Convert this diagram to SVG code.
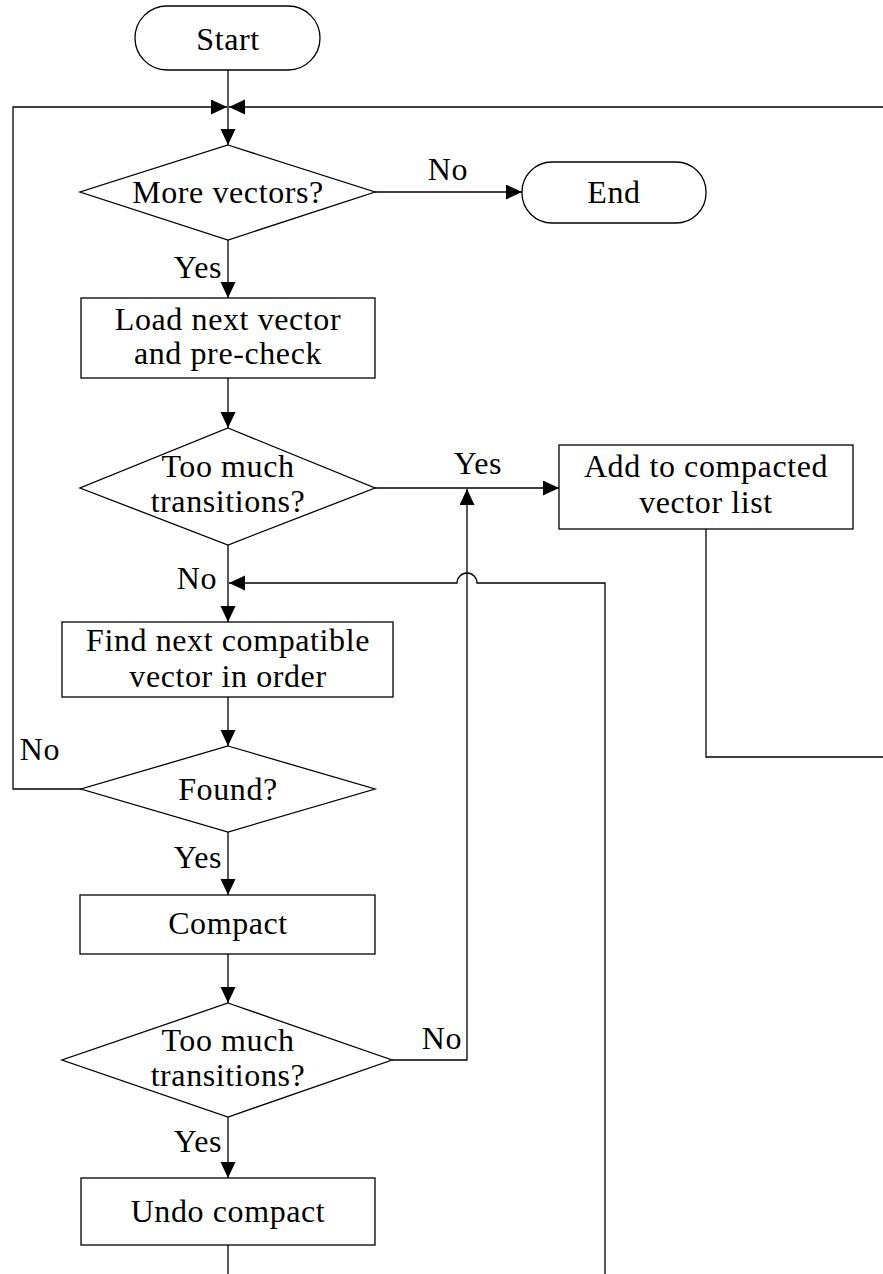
<svg xmlns="http://www.w3.org/2000/svg" width="883" height="1274" viewBox="0 0 883 1274">
  <style>
    .shape { fill: #fff; stroke: #000; stroke-width: 1.3; }
    .wire { fill: none; stroke: #000; stroke-width: 1.3; }
    text { font-family: "Liberation Serif", "Times New Roman", serif; font-size: 32px; letter-spacing: 0.6px; fill: #000; text-anchor: middle; }
  </style>
  <defs>
    <marker id="arrow" markerUnits="userSpaceOnUse" markerWidth="18" markerHeight="16" refX="16" refY="7.5" orient="auto">
      <path d="M0,0 L16,7.5 L0,15 Z" fill="#000"/>
    </marker>
  </defs>
  <rect width="883" height="1274" fill="#fff"/>

  <g id="connectors">
    <!-- Start to first decision -->
    <path class="wire" d="M228,70 V145" marker-end="url(#arrow)"/>
    <!-- loop-back lines joining above the first decision -->
    <path class="wire" d="M81,789 H13 V107 H227" marker-end="url(#arrow)"/>
    <path class="wire" d="M706,529 V757 H883"/>
    <path class="wire" d="M883,107 H229" marker-end="url(#arrow)"/>
    <!-- More vectors? -> End -->
    <path class="wire" d="M375,192 H522" marker-end="url(#arrow)"/>
    <path class="wire" d="M228,240 V298" marker-end="url(#arrow)"/>
    <path class="wire" d="M228,378 V428" marker-end="url(#arrow)"/>
    <!-- Too much transitions? Yes -> Add to list -->
    <path class="wire" d="M375,488 H559" marker-end="url(#arrow)"/>
    <path class="wire" d="M228,545 V622" marker-end="url(#arrow)"/>
    <!-- return line from the right with a hop over the vertical -->
    <path class="wire" d="M605,1274 V583 H477 A10,10 0 0 0 457,583 H229" marker-end="url(#arrow)"/>
    <path class="wire" d="M228,697 V746" marker-end="url(#arrow)"/>
    <path class="wire" d="M228,832 V895" marker-end="url(#arrow)"/>
    <path class="wire" d="M228,954 V1003" marker-end="url(#arrow)"/>
    <!-- second transition check No -> back up -->
    <path class="wire" d="M392,1060 H467 V489" marker-end="url(#arrow)"/>
    <path class="wire" d="M228,1117 V1178" marker-end="url(#arrow)"/>
    <path class="wire" d="M228,1245 V1274"/>
  </g>

  <g id="labels">
    <text x="448" y="180">No</text>
    <text x="198" y="278">Yes</text>
    <text x="478" y="474">Yes</text>
    <text x="197" y="589">No</text>
    <text x="40" y="760">No</text>
    <text x="198" y="868">Yes</text>
    <text x="442" y="1049">No</text>
    <text x="198" y="1152">Yes</text>
  </g>

  <g id="start">
    <rect class="shape" x="135" y="6" width="185" height="64" rx="32" ry="32"/>
    <text x="228" y="50">Start</text>
  </g>

  <g id="more-vectors">
    <polygon class="shape" points="228,145 375,192 228,240 80,192"/>
    <text x="228" y="203">More vectors?</text>
  </g>

  <g id="end">
    <rect class="shape" x="522" y="162" width="184" height="61" rx="30" ry="30"/>
    <text x="614" y="203">End</text>
  </g>

  <g id="load-next">
    <rect class="shape" x="81" y="298" width="294" height="80"/>
    <text x="228" y="330">Load next vector</text>
    <text x="228" y="364">and pre-check</text>
  </g>

  <g id="too-much-1">
    <polygon class="shape" points="228,428 375,488 228,545 80,488"/>
    <text x="228" y="477">Too much</text>
    <text x="228" y="512">transitions?</text>
  </g>

  <g id="add-to-list">
    <rect class="shape" x="559" y="445" width="294" height="84"/>
    <text x="706" y="477">Add to compacted</text>
    <text x="706" y="513">vector list</text>
  </g>

  <g id="find-next">
    <rect class="shape" x="62" y="622" width="331" height="75"/>
    <text x="228" y="651">Find next compatible</text>
    <text x="228" y="687">vector in order</text>
  </g>

  <g id="found">
    <polygon class="shape" points="228,746 375,789 228,832 81,789"/>
    <text x="228" y="800">Found?</text>
  </g>

  <g id="compact">
    <rect class="shape" x="80" y="895" width="295" height="59"/>
    <text x="228" y="934">Compact</text>
  </g>

  <g id="too-much-2">
    <polygon class="shape" points="228,1003 392,1060 228,1117 62,1060"/>
    <text x="228" y="1051">Too much</text>
    <text x="228" y="1086">transitions?</text>
  </g>

  <g id="undo-compact">
    <rect class="shape" x="81" y="1178" width="294" height="67"/>
    <text x="228" y="1222">Undo compact</text>
  </g>
</svg>
